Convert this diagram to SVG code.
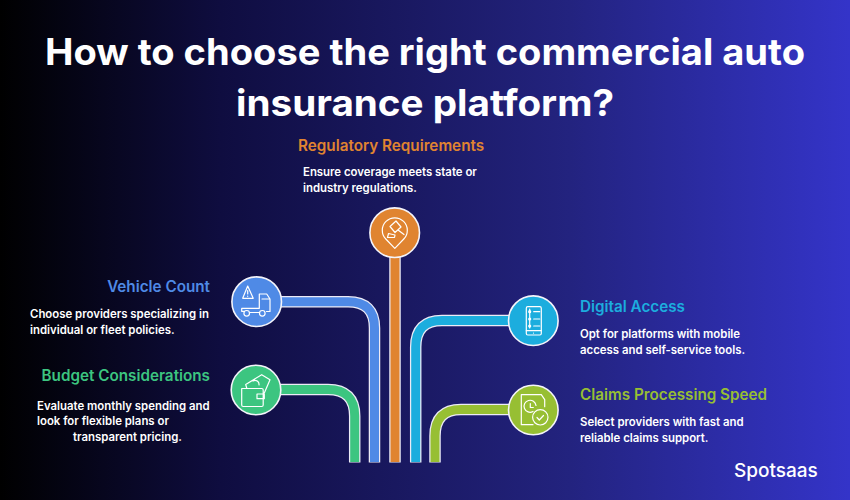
<svg xmlns="http://www.w3.org/2000/svg" width="850" height="500" viewBox="0 0 850 500">
<style>
.title{font:700 37px Inter,"Liberation Sans",sans-serif;fill:#fff}
.h{font:600 15.25px Inter,"Liberation Sans",sans-serif}
.b{font:600 11.4px Inter,"Liberation Sans",sans-serif;fill:#fff}
.edge{stroke:#ecebf6;stroke-width:11.5;fill:none}
.fill{stroke-width:9;fill:none}
.ring{stroke:#f4f4fa;stroke-width:1.6}
.i{fill:none;stroke:#fff;stroke-width:1.2;stroke-linejoin:round;stroke-linecap:round}
</style>
<defs><linearGradient id="bg" x1="0" y1="0" x2="1" y2="0"><stop offset="0" stop-color="#000"/><stop offset=".26" stop-color="#0f0d40"/><stop offset=".67" stop-color="#23237f"/><stop offset="1" stop-color="#3434c9"/></linearGradient></defs>
<rect width="850" height="500" fill="url(#bg)"/>
<g id="title"><text class="title" x="45" y="65" textLength="760" lengthAdjust="spacingAndGlyphs">How to choose the right commercial auto</text><text class="title" x="236" y="116" textLength="378" lengthAdjust="spacingAndGlyphs">insurance platform?</text></g>
<g id="connectors">
<path class="edge" d="M270 301.7H348Q374.5 301.700 374.5 328V462.5"/><path class="fill" stroke="#4f8ae6" d="M270 301.7H348Q374.5 301.7 374.5 328V462"/>
<path class="edge" d="M270 389.5H328Q354.7 389.5 354.7 416V462.5"/><path class="fill" stroke="#3cc580" d="M270 389.5H328Q354.7 389.5 354.7 416V462"/>
<path class="edge" d="M395 245V462.5"/><path class="fill" stroke="#e08430" d="M395 245V462"/>
<path class="edge" d="M520 320.5H442Q415.7 320.5 415.7 347V462.5"/><path class="fill" stroke="#1cadde" d="M520 320.5H442Q415.7 320.5 415.7 347V462"/>
<path class="edge" d="M520 409.5H461Q435 409.5 435 436V462.5"/><path class="fill" stroke="#97bf33" d="M520 409.5H461Q435 409.5 435 436V462"/>
</g>
<g id="node-regulatory">
<circle class="ring" cx="394.7" cy="232.7" r="24.8" fill="#e08430"/>
<path class="i" d="M394.8 248.300l-9-9.300a12.500 12.500 0 1 1 18 0z"/><path class="i" d="M390 226.500l6-5.500 5 6-6 5.500zM398 230l6 4.500M388.500 233.500l6.500 1.500-.5 2.500h-7z"/>
<text class="h" x="298" y="151" fill="#e08430">Regulatory Requirements</text>
<text class="b" x="303" y="176">Ensure coverage meets state or</text><text class="b" x="303" y="192">industry regulations.</text>
</g>
<g id="node-vehicle">
<circle class="ring" cx="256.7" cy="301.7" r="24.8" fill="#4f8ae6"/>
<path class="i" d="M247.700 286l-5 12.300h10.500zM247.700 290.500v3.500M247.700 296v.3M259.300 294v14.300M259.300 294h7.400l3.300 5v12.500h-3.500M262 299h7M241.700 308.300h17.600M241.700 308.300v3h2M250 312.500h9.300"/><circle class="i" cx="246.700" cy="313.300" r="2.800"/><circle class="i" cx="262.300" cy="313.300" r="2.800"/>
<text class="h" x="210" y="292" fill="#4f8ae6" text-anchor="end">Vehicle Count</text>
<text class="b" x="30" y="318">Choose providers specializing in</text><text class="b" x="30" y="334">individual or fleet policies.</text>
</g>
<g id="node-budget">
<circle class="ring" cx="256" cy="390" r="24.8" fill="#3cc580"/>
<path class="i" d="M241.700 388.500h20a1.500 1.500 0 0 1 1.500 1.500v15a1.500 1.500 0 0 1-1.500 1.500h-18.500a1.500 1.500 0 0 1-1.500-1.500zM257 394h7.300v4.700H257zM246.700 388l-1-3.500 16-9.800 8.300 5-5.700 13.300M253 381a4 4 0 0 1 6 4"/>
<text class="h" x="210" y="381" fill="#3cc580" text-anchor="end">Budget Considerations</text>
<text class="b" x="37" y="410">Evaluate monthly spending and</text><text class="b" x="37" y="425">look for flexible plans or</text><text class="b" x="73" y="441">transparent pricing.</text>
</g>
<g id="node-digital">
<circle class="ring" cx="533.3" cy="320.700" r="24.8" fill="#1cadde"/>
<rect class="i" x="526.300" y="306.700" width="15" height="28.300" rx="1.500"/><path class="i" d="M526.300 330.700h15M529.700 309v19M533.700 311.700h6M533.700 319h6M533.700 326h6M533.500 333v.1"/><circle class="i" cx="529.700" cy="311.700" r="1"/><circle class="i" cx="529.700" cy="319" r="1"/><circle class="i" cx="529.700" cy="326" r="1"/>
<text class="h" x="580" y="312" fill="#1cadde">Digital Access</text>
<text class="b" x="580" y="338">Opt for platforms with mobile</text><text class="b" x="580" y="354">access and self-service tools.</text>
</g>
<g id="node-claims">
<circle class="ring" cx="533.3" cy="410" r="24.8" fill="#97bf33"/>
<path class="i" d="M533 424.700h-11.700v-30h20l3.400 5v7"/><path class="i" d="M533 411.500a6 6 0 1 1 3-6M530.300 403.500v4h3"/><circle class="i" cx="540.300" cy="417.300" r="7.700"/><path class="i" d="M537 417.500l2.300 2.500 4.200-4.500"/>
<text class="h" x="580" y="400" fill="#97bf33">Claims Processing Speed</text>
<text class="b" x="580" y="426">Select providers with fast and</text><text class="b" x="580" y="442">reliable claims support.</text>
</g>
<g id="logo"><text x="734" y="477" font-family="Inter,'Liberation Sans',sans-serif" font-size="19" font-weight="500" fill="#fff">Spotsaas</text></g>
</svg>
